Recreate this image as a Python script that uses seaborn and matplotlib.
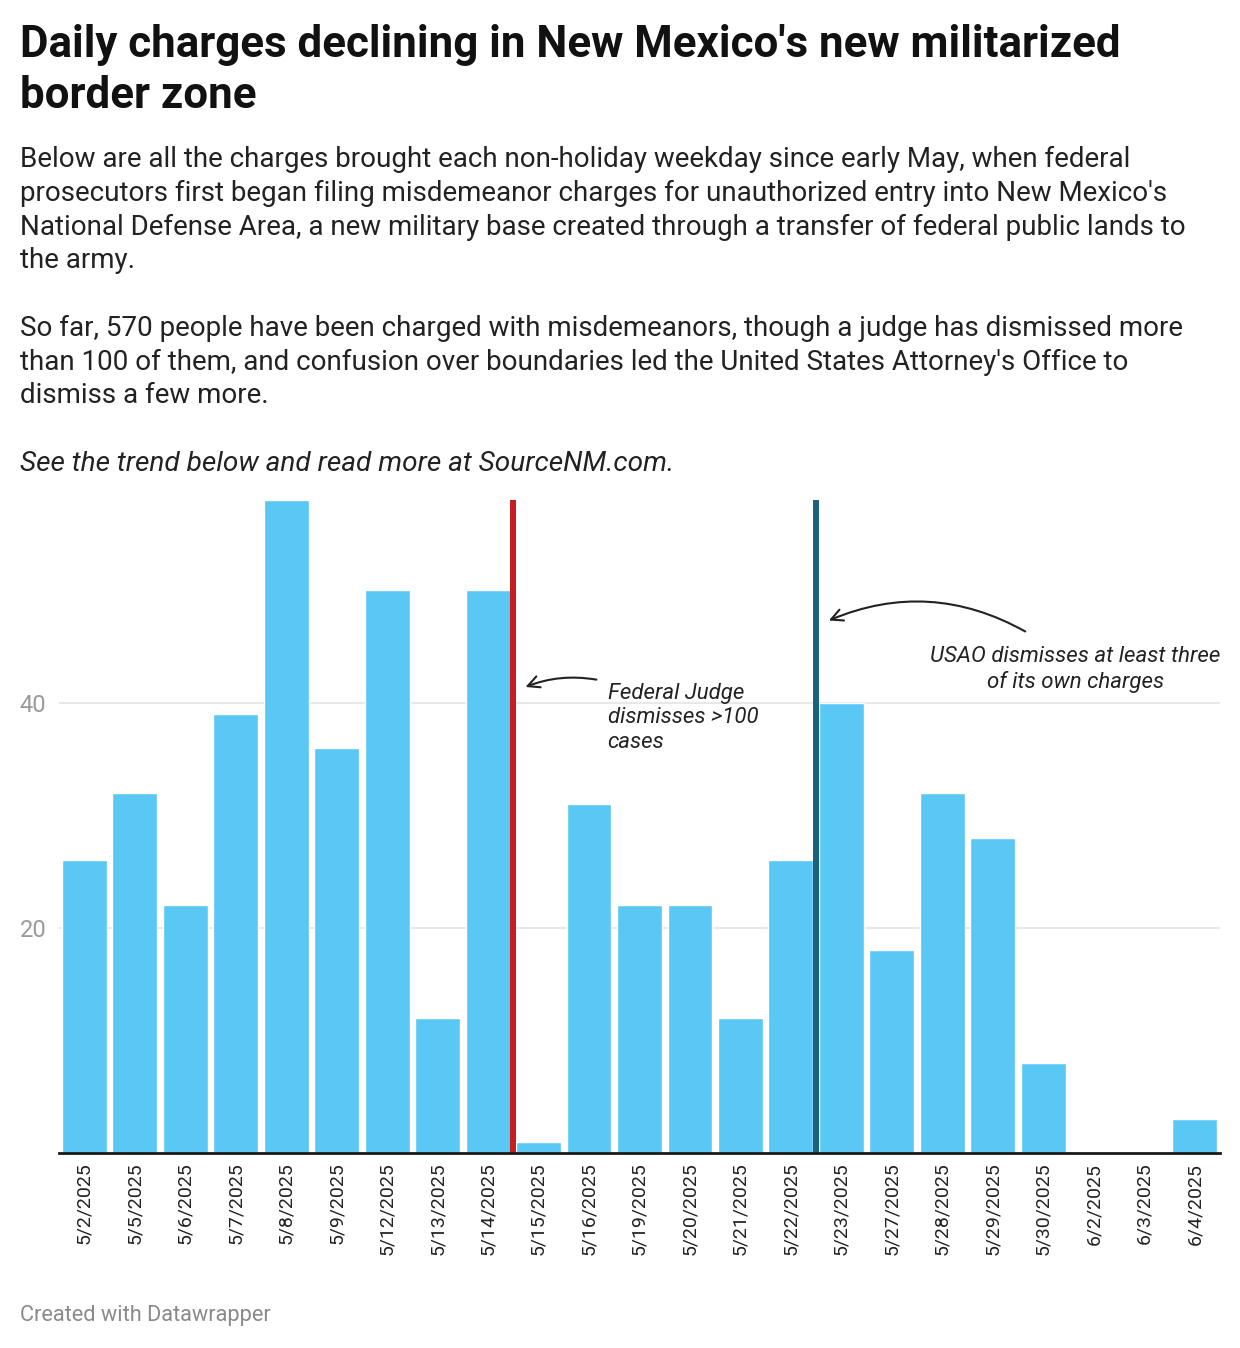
import matplotlib
matplotlib.use("Agg")
import matplotlib.pyplot as plt
import pandas as pd
import seaborn as sns

# daily misdemeanor charges, non-holiday weekdays
dates = ["5/2/2025", "5/5/2025", "5/6/2025", "5/7/2025", "5/8/2025", "5/9/2025",
         "5/12/2025", "5/13/2025", "5/14/2025", "5/15/2025", "5/16/2025", "5/19/2025",
         "5/20/2025", "5/21/2025", "5/22/2025", "5/23/2025", "5/27/2025", "5/28/2025",
         "5/29/2025", "5/30/2025", "6/2/2025", "6/3/2025", "6/4/2025"]
charges = [26, 32, 22, 39, 58, 36, 50, 12, 50, 1, 31, 22, 22, 12, 26, 40, 18, 32,
           28, 8, 0, 0, 3]
y_ticks = [20, 40]

# events marked between bars
judge_after = "5/14/2025"
usao_after = "5/22/2025"

df = pd.DataFrame({"date": dates, "charges": charges})

sns.set_theme(style="white")
plt.rcParams["font.family"] = ["Roboto", "DejaVu Sans"]

W, H = 1240, 1348
fig = plt.figure(figsize=(W / 100, H / 100), dpi=100)


def fx(px):
    return px / W


def fy(py):
    return 1 - py / H


ax = fig.add_axes([fx(59), fy(1153), fx(1220 - 59), (1153 - 500) / H])

sns.barplot(data=df, x="date", y="charges", order=dates, color="#5ac8f5",
            width=0.89, saturation=1, ax=ax, zorder=2)

ax.set_xlim(-0.5, len(dates) - 0.5)
ax.set_ylim(0, max(charges))
ax.set_yticks(y_ticks)
ax.set_yticklabels([str(t) for t in y_ticks])
ax.grid(axis="y", color="#e4e4e4", lw=1.2, zorder=0)
ax.tick_params(axis="y", length=0, pad=9, labelsize=17, labelcolor="#9a9a9a")
ax.tick_params(axis="x", length=0, pad=7, labelsize=14, labelcolor="#222222",
               rotation=90)
for lab in ax.get_xticklabels():
    lab.set_va("top")
ax.set_xlabel("")
ax.set_ylabel("")
for s in ["top", "right", "left"]:
    ax.spines[s].set_visible(False)
ax.spines["bottom"].set_color("#1a1a1a")
ax.spines["bottom"].set_linewidth(2)
ax.spines["bottom"].set_zorder(5)

# event lines
jx = dates.index(judge_after) + 0.5
ux = dates.index(usao_after) + 0.5
ax.axvline(jx, color="#c71e1d", lw=4.3, zorder=4)
ax.axvline(ux, color="#18627e", lw=4.3, zorder=4)

arrow = dict(arrowstyle="->,head_length=0.7,head_width=0.35", color="#222222", lw=1.5)

ax.text(jx + 1.87, 36.0, "Federal Judge\ndismisses >100\ncases", fontsize=16,
        style="italic", color="#222222", ha="left", va="baseline", linespacing=1.22)
ax.annotate("", xy=(jx + 0.19, 41.3), xytext=(jx + 1.7, 42.0),
            arrowprops=dict(arrow, connectionstyle="arc3,rad=0.15"))

ax.text(ux + 5.14, 41.33, "USAO dismisses at least three\nof its own charges", fontsize=16,
        style="italic", color="#222222", ha="center", va="baseline", linespacing=1.22)
ax.annotate("", xy=(ux + 0.2, 47.2), xytext=(ux + 4.19, 46.2),
            arrowprops=dict(arrow, connectionstyle="arc3,rad=0.25"))

# title and description
fig.text(fx(20), fy(57), "Daily charges declining in New Mexico's new militarized",
         fontsize=31.6, fontweight="bold", color="#111111", va="baseline")
fig.text(fx(20), fy(108), "border zone",
         fontsize=31.6, fontweight="bold", color="#111111", va="baseline")

body = [
    (167, "Below are all the charges brought each non-holiday weekday since early May, when federal"),
    (201, "prosecutors first began filing misdemeanor charges for unauthorized entry into New Mexico's"),
    (235, "National Defense Area, a new military base created through a transfer of federal public lands to"),
    (268, "the army."),
    (336, "So far, 570 people have been charged with misdemeanors, though a judge has dismissed more"),
    (370, "than 100 of them, and confusion over boundaries led the United States Attorney's Office to"),
    (403, "dismiss a few more."),
]
for py, line in body:
    fig.text(fx(20), fy(py), line, fontsize=20, color="#222222", va="baseline")
fig.text(fx(20), fy(471), "See the trend below and read more at SourceNM.com.",
         fontsize=20.2, style="italic", color="#222222", va="baseline")

fig.text(fx(20), fy(1321), "Created with Datawrapper", fontsize=15.7, color="#8a8a8a",
         va="baseline")

fig.savefig("out.png", dpi=100, facecolor="white")
